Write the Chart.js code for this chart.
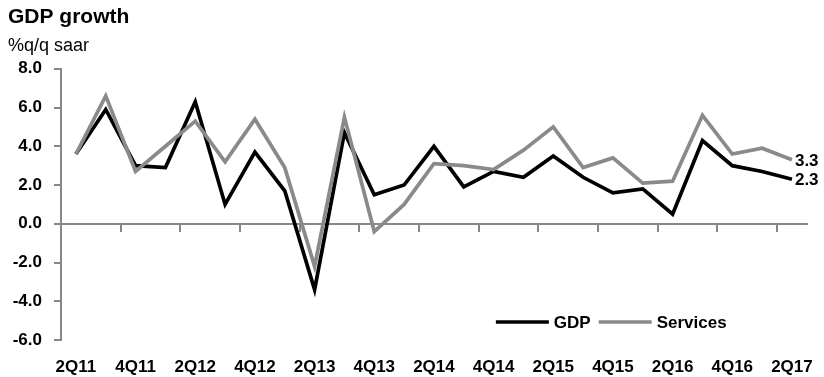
<!DOCTYPE html>
<html>
<head>
<meta charset="utf-8">
<script src="https://cdn.jsdelivr.net/npm/chart.js@4/dist/chart.umd.min.js"></script>
<style>
  html, body { margin: 0; padding: 0; background: #fff; }
</style>
</head>
<body>
<canvas id="myChart" width="824" height="377"></canvas>
<script>
// quarters 2Q11 .. 2Q17
var quarters = ['2Q11','3Q11','4Q11','1Q12','2Q12','3Q12','4Q12','1Q13','2Q13','3Q13','4Q13','1Q14','2Q14',
                '3Q14','4Q14','1Q15','2Q15','3Q15','4Q15','1Q16','2Q16','3Q16','4Q16','1Q17','2Q17'];
var gdp      = [3.6, 5.9, 3.0, 2.9, 6.3, 1.0, 3.7, 1.7, -3.4, 4.7, 1.5, 2.0, 4.0,
                1.9, 2.7, 2.4, 3.5, 2.4, 1.6, 1.8, 0.5, 4.3, 3.0, 2.7, 2.3];
var services = [3.6, 6.6, 2.7, 4.0, 5.3, 3.2, 5.4, 2.9, -2.2, 5.5, -0.4, 1.0, 3.1,
                3.0, 2.8, 3.8, 5.0, 2.9, 3.4, 2.1, 2.2, 5.6, 3.6, 3.9, 3.3];
var yTicks = [-6, -4, -2, 0, 2, 4, 6, 8];

var FONT = "'Liberation Sans', Arial, sans-serif";
var AXIS_GREY = '#878787';

// end-of-line value labels ("3.3", "2.3")
var endLabels = {
  id: 'endLabels',
  afterDatasetsDraw: function(chart) {
    var ctx = chart.ctx;
    ctx.save();
    ctx.font = 'bold 17px ' + FONT;
    ctx.fillStyle = '#000';
    ctx.textAlign = 'left';
    ctx.textBaseline = 'middle';
    chart.data.datasets.forEach(function(ds, i) {
      var meta = chart.getDatasetMeta(i);
      var pt = meta.data[meta.data.length - 1];
      var v = ds.data[ds.data.length - 1];
      ctx.fillText(v.toFixed(1), pt.x + 3, pt.y + 1);
    });
    ctx.restore();
  }
};

// legend drawn inside the plot, bottom right
var innerLegend = {
  id: 'innerLegend',
  afterDraw: function(chart) {
    var ctx = chart.ctx;
    var area = chart.chartArea;
    var x = area.right - 311;
    var y = area.bottom - 18;
    ctx.save();
    ctx.font = 'bold 17px ' + FONT;
    ctx.textBaseline = 'middle';
    ctx.fillStyle = '#000';
    chart.data.datasets.forEach(function(ds) {
      ctx.strokeStyle = ds.borderColor;
      ctx.lineWidth = ds.borderWidth;
      ctx.beginPath();
      ctx.moveTo(x, y);
      ctx.lineTo(x + 53, y);
      ctx.stroke();
      x += 58;
      ctx.fillText(ds.label, x, y + 1);
      x += ctx.measureText(ds.label).width + 8;
    });
    ctx.restore();
  }
};

var ctx = document.getElementById('myChart').getContext('2d');
var chart = new Chart(ctx, {
  type: 'line',
  data: {
    labels: quarters,
    datasets: [{
      label: 'GDP',
      data: gdp,
      borderColor: '#000000',
      borderWidth: 3.7,
      pointRadius: 0,
      tension: 0,
      order: 2
    }, {
      label: 'Services',
      data: services,
      borderColor: '#8a8a8a',
      borderWidth: 3.7,
      pointRadius: 0,
      tension: 0,
      order: 1
    }]
  },
  plugins: [endLabels, innerLegend],
  options: {
    responsive: false,
    animation: false,
    devicePixelRatio: 1,
    layout: { padding: { left: 8, right: 13, top: 0, bottom: 0 } },
    plugins: {
      legend: { display: false },
      tooltip: { enabled: false },
      title: {
        display: true,
        text: 'GDP growth',
        align: 'start',
        color: '#000',
        font: { family: FONT, size: 21, weight: 'bold', lineHeight: 1.2 },
        padding: { top: 5, bottom: 0 }
      },
      subtitle: {
        display: true,
        text: '%q/q saar',
        align: 'start',
        color: '#000',
        font: { family: FONT, size: 18, weight: 'normal', lineHeight: 1.2 },
        padding: { top: 5, bottom: 12 }
      }
    },
    scales: {
      x: {
        type: 'category',
        offset: true,
        grid: { display: false },
        border: { display: false },
        afterFit: function(scale) { scale.height = 37; },
        ticks: {
          autoSkip: false,
          maxRotation: 0,
          padding: 11,
          color: '#000',
          font: { family: FONT, size: 17, weight: 'bold', lineHeight: 1 },
          callback: function(val, i) { return i % 2 === 0 ? quarters[i] : ''; }
        }
      },
      x2: {
        type: 'category',
        labels: quarters,
        offset: true,
        position: { y: 0 },
        border: { display: true, color: AXIS_GREY, width: 2 },
        grid: {
          offset: true,
          drawOnChartArea: false,
          drawTicks: true,
          tickLength: 7,
          lineWidth: 2,
          color: function(c) { return c.index % 2 === 0 ? AXIS_GREY : 'rgba(0,0,0,0)'; }
        },
        ticks: { display: false }
      },
      y: {
        min: yTicks[0],
        max: yTicks[yTicks.length - 1],
        afterFit: function(scale) { scale.width = 53; },
        afterBuildTicks: function(scale) {
          scale.ticks = yTicks.map(function(v) { return { value: v }; });
        },
        border: { display: true, color: AXIS_GREY, width: 2 },
        grid: {
          drawOnChartArea: false,
          drawTicks: true,
          tickLength: 7,
          lineWidth: 2,
          color: AXIS_GREY
        },
        ticks: {
          padding: 12,
          color: '#000',
          font: { family: FONT, size: 17, weight: 'bold' },
          callback: function(v) { return v.toFixed(1); }
        }
      }
    }
  }
});
</script>
</body>
</html>
